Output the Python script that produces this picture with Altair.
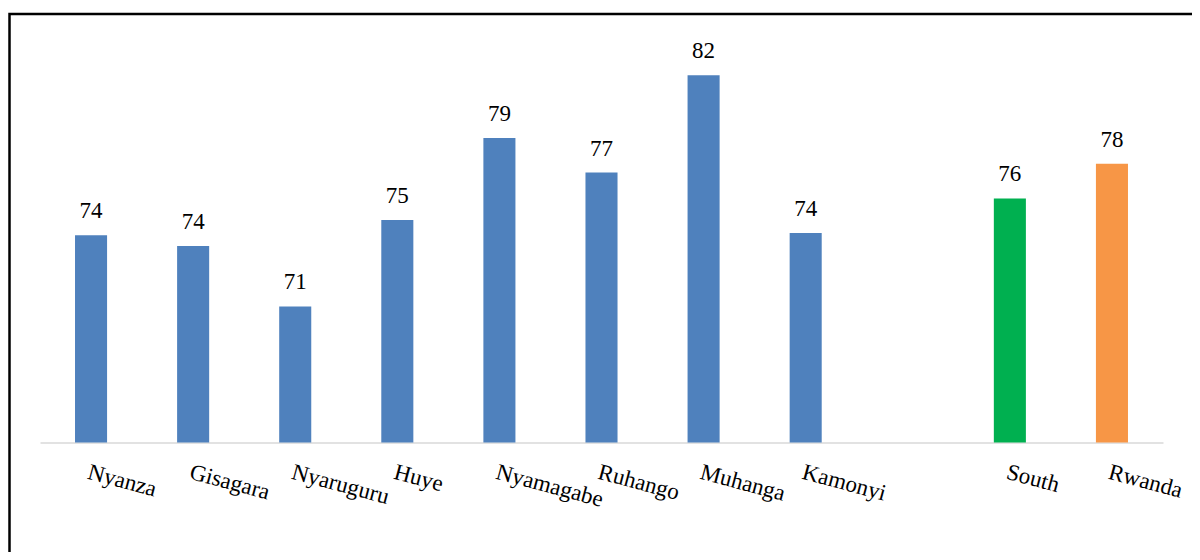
import altair as alt
import pandas as pd

categories = ["Nyanza", "Gisagara", "Nyaruguru", "Huye", "Nyamagabe",
              "Ruhango", "Muhanga", "Kamonyi", "South", "Rwanda"]
values = [74.3, 73.8, 71.0, 75.0, 78.8, 77.2, 81.7, 74.4, 76.0, 77.6]
groups = ["District"] * 8 + ["South", "Rwanda"]
group_colors = ["#4F81BD", "#00B050", "#F79646"]
axis_order = categories[:8] + [""] + categories[8:]
BASE = 64.7
TOP = 84.7
FONT = "Liberation Serif"

df = pd.DataFrame({"cat": categories, "value": values, "group": groups})

x = alt.X(
    "cat:N",
    sort=axis_order,
    scale=alt.Scale(domain=axis_order, paddingInner=0.686, paddingOuter=0.343),
    axis=alt.Axis(
        title=None, labelAngle=15, labelAlign="left", labelBaseline="top",
        labelPadding=18, labelFont=FONT, labelFontSize=23,
        labelColor="black", domainColor="#D9D9D9", domainWidth=1.5,
        ticks=False, labelOverlap=False, grid=False,
    ),
)
y = alt.Y("value:Q", scale=alt.Scale(domain=[BASE, TOP], zero=False, nice=False), axis=None)

bars = alt.Chart(df).mark_bar().encode(
    x=x,
    y=y,
    y2=alt.datum(BASE),
    color=alt.Color("group:N", scale=alt.Scale(domain=["District", "South", "Rwanda"], range=group_colors), legend=None),
)

text = alt.Chart(df).mark_text(
    font=FONT, fontSize=23, baseline="alphabetic", dy=-17, color="black"
).encode(x=x, y=y, text=alt.Text("value:Q", format=".0f"))

border = alt.Chart(pd.DataFrame({"k": [0]})).mark_rect(
    fillOpacity=0, stroke="black", strokeWidth=2.5
).encode(x=alt.value(-30.5), x2=alt.value(1500), y=alt.value(3.5), y2=alt.value(1000))

chart = alt.layer(border, bars, text).properties(
    width=1123, height=432,
    padding={"left": 32, "top": 2.5, "right": 29, "bottom": 109.5},
    autosize=alt.AutoSizeParams(type="none"),
    background="white",
).configure_view(stroke=None)

chart.save("out.html", embed_options={"renderer": "svg", "actions": False})
